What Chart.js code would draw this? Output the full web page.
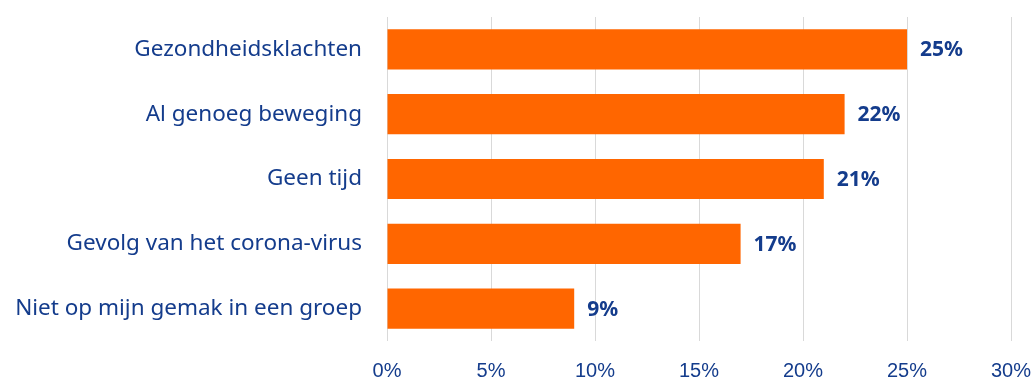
<!DOCTYPE html>
<html>
<head>
<meta charset="utf-8">
<script src="https://cdn.jsdelivr.net/npm/chart.js@4"></script>
<style>
  html, body { margin: 0; padding: 0; background: #fff; }
  #wrap { width: 1035px; height: 382px; }
</style>
</head>
<body>
<div id="wrap"><canvas id="myChart"></canvas></div>
<script>
'use strict';

let reasons = [
  'Gezondheidsklachten',
  'Al genoeg beweging',
  'Geen tijd',
  'Gevolg van het corona-virus',
  'Niet op mijn gemak in een groep'
];
let shares = [25, 22, 21, 17, 9];
let tickValues = [0, 5, 10, 15, 20, 25, 30];

const navy = '#143c8c';
const orange = '#ff6600';

// bold value next to the end of each bar
const valueLabels = {
  id: 'valueLabels',
  afterDatasetsDraw(chart){
    let ctx = chart.ctx;
    let meta = chart.getDatasetMeta(0);
    ctx.save();
    ctx.font = 'bold 21px "Noto Sans", sans-serif';
    ctx.fillStyle = navy;
    ctx.textAlign = 'left';
    ctx.textBaseline = 'middle';
    for(let i = 0; i < meta.data.length; i++){
      let bar = meta.data[i];
      ctx.fillText(shares[i] + '%', bar.x + 13, bar.y + 1);
    }
    ctx.restore();
  }
};

const ctx = document.getElementById('myChart');

new Chart(ctx, {
  type: 'bar',
  data: {
    labels: reasons,
    datasets: [{
      data: shares,
      backgroundColor: orange,
      borderWidth: 0,
      barPercentage: 1,
      categoryPercentage: 0.62
    }]
  },
  options: {
    indexAxis: 'y',
    responsive: true,
    maintainAspectRatio: false,
    animation: false,
    layout: { padding: { top: 17, right: 24, left: 0, bottom: 0 } },
    plugins: {
      legend: { display: false },
      tooltip: { enabled: false }
    },
    scales: {
      x: {
        min: 0,
        max: 30,
        afterBuildTicks(scale){
          scale.ticks = tickValues.map(v => ({ value: v }));
        },
        afterFit(scale){
          scale.height = 41;
          scale.paddingLeft = 0;
          scale.paddingRight = 0;
        },
        grid: { color: '#d9d9d9', lineWidth: 1, drawTicks: false },
        border: { display: false },
        ticks: {
          color: navy,
          padding: 18,
          font: { family: '"Liberation Sans", sans-serif', size: 20 },
          callback: v => v + '%'
        }
      },
      y: {
        afterFit(scale){
          scale.width = 387;
          scale.paddingTop = 0;
          scale.paddingBottom = 0;
        },
        grid: { display: false, drawTicks: false },
        border: { display: false },
        ticks: {
          color: navy,
          padding: 25,
          font: { family: '"Noto Sans", sans-serif', size: 22.5 }
        }
      }
    }
  },
  plugins: [valueLabels]
});
</script>
</body>
</html>
